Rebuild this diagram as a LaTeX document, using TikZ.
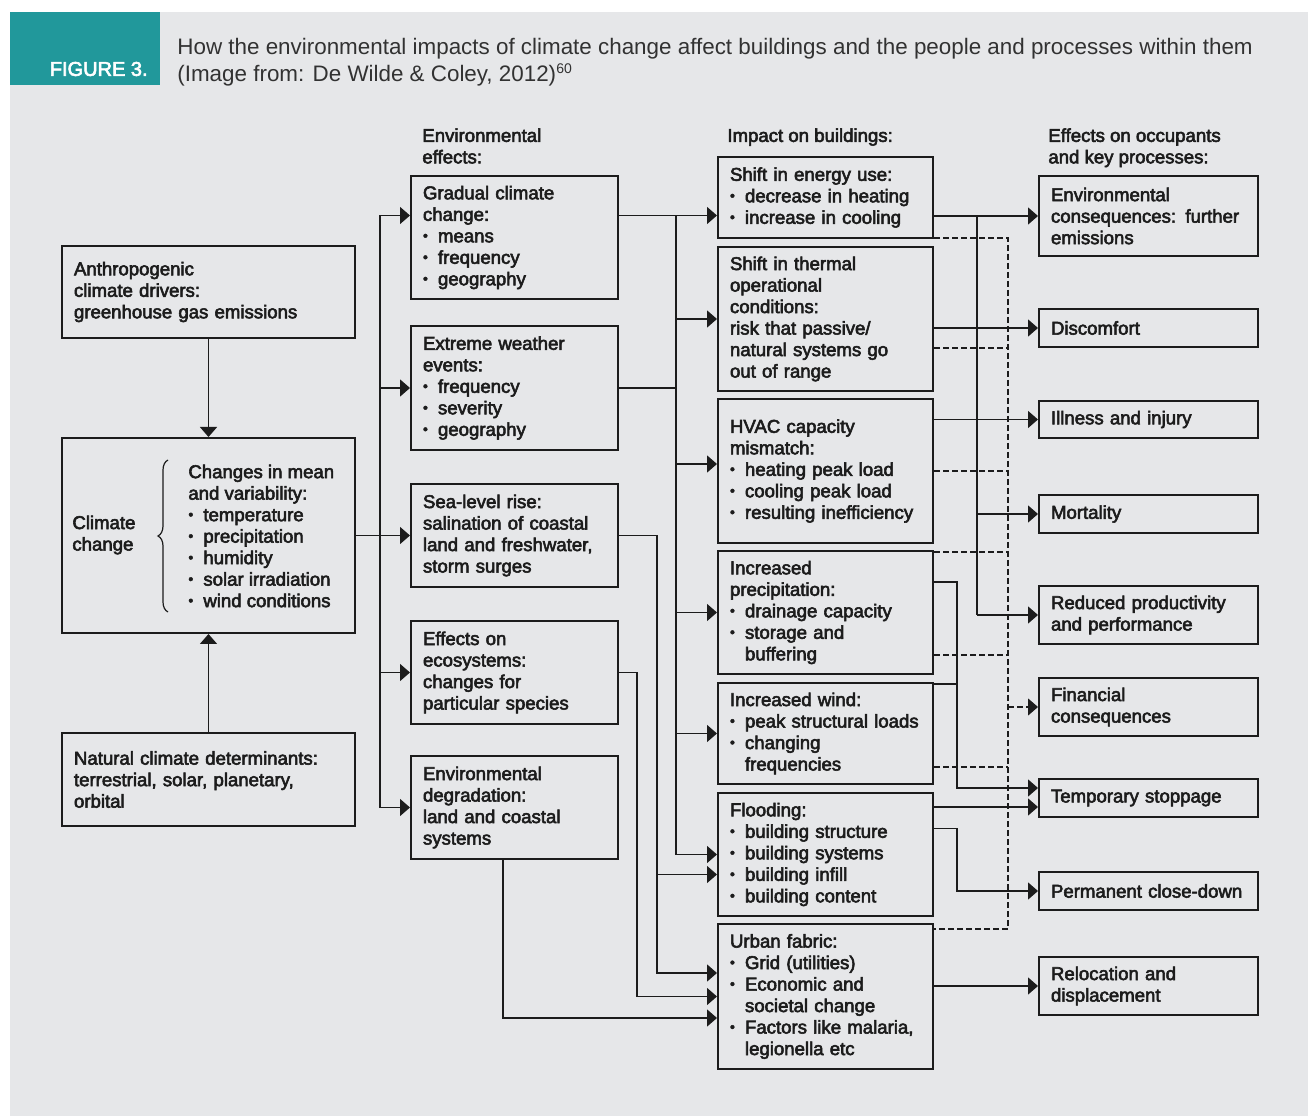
\documentclass[tikz,border=0pt]{standalone}
\usepackage{fontspec}
\setmainfont{Liberation Sans}
\newfontfamily\boxfont{Liberation Sans}[UprightFeatures={FakeBold=3}]
\usetikzlibrary{arrows.meta,calc,decorations.pathreplacing}
\definecolor{bggrey}{RGB}{230,231,233}
\definecolor{figteal}{RGB}{33,152,155}
\definecolor{inkgrey}{RGB}{28,28,28}
\definecolor{titlegrey}{RGB}{50,50,50}
\newcommand{\bul}{\makebox[7.5pt][l]{\raisebox{0.1em}{\scalebox{0.75}{\textbullet}}}}
\newcommand{\ind}{\hspace*{7.5pt}}
\newcommand{\boxsize}{\fontsize{9.3}{10.75}\selectfont}
\begin{document}
\begin{tikzpicture}[x=0.5pt,y=-0.5pt,
  box/.style={draw=inkgrey,line width=1pt,anchor=north west,align=left,inner xsep=6pt,inner ysep=2pt,font=\boxfont\boxsize,text=inkgrey},
  colA/.style={text width=134.5pt},
  colB/.style={text width=91.5pt},
  colC/.style={text width=95.5pt},
  colD/.style={text width=97.5pt},
  lbl/.style={inner sep=0,align=left,font=\boxfont\boxsize,text=inkgrey},
  arr/.style={draw=inkgrey,line width=0.75pt,-{Triangle[length=5pt,width=8.5pt]}},
  ln/.style={draw=inkgrey,line width=0.75pt},
  dsh/.style={draw=inkgrey,line width=0.6pt,dash pattern=on 3pt off 1.5pt}]
\useasboundingbox (0,0) rectangle (1308,1117);
\fill[bggrey] (10,12) rectangle (1308,1116);

% heading
\node[fill=figteal,anchor=north west,inner sep=0,minimum width=75pt,minimum height=36.5pt] (figbox) at (10,12) {};
\node[anchor=east,inner sep=0,text=white,font=\boxfont\fontsize{10}{12}\selectfont] (figlbl) at (148,69) {FIGURE 3.};
\node[anchor=north west,inner sep=0,align=left,text=titlegrey,font=\fontsize{11.2}{13.5}\selectfont] (title) at (177,38)
  {How the environmental impacts of climate change affect buildings and the people and processes within them\\(Image from: De Wilde \& Coley, 2012)\textsuperscript{\scriptsize 60}};

% column headers
\node[lbl,anchor=north west] (hdenv) at (422,128) {Environmental\\effects:};
\node[lbl,anchor=north west] (hdbld) at (727,128) {Impact on buildings:};
\node[lbl,anchor=north west] (hdocc) at (1048,128) {Effects on occupants\\and key processes:};

% drivers
\node[box,colA,minimum height=46pt] (anthro) at (61,245) {Anthropogenic\\climate drivers:\\greenhouse gas emissions};
\node[box,colA,minimum height=97.5pt] (cc) at (61,437) {};
\node[box,colA,minimum height=46.5pt] (natural) at (61,732) {Natural climate determinants:\\terrestrial, solar, planetary,\\orbital};
\node[lbl,anchor=west] (cclab) at (72,535) {Climate\\change};
\node[lbl,anchor=west] (cclist) at (188,536) {Changes in mean\\and variability:\\\bul temperature\\\bul precipitation\\\bul humidity\\\bul solar irradiation\\\bul wind conditions};
\draw[inkgrey,line width=0.6pt,decorate,decoration={brace,amplitude=5pt}] (168,612) -- (168,460);

% environmental effects
\node[box,colB,minimum height=61.5pt] (grad) at (410,175) {Gradual climate\\change:\\\bul means\\\bul frequency\\\bul geography};
\node[box,colB,minimum height=62pt] (extreme) at (410,325) {Extreme weather\\events:\\\bul frequency\\\bul severity\\\bul geography};
\node[box,colB,minimum height=51.5pt] (sea) at (410,483) {Sea-level rise:\\salination of coastal\\land and freshwater,\\storm surges};
\node[box,colB,minimum height=51.5pt] (eco) at (410,620) {Effects on\\ecosystems:\\changes for\\particular species};
\node[box,colB,minimum height=51.5pt] (degr) at (410,755) {Environmental\\degradation:\\land and coastal\\systems};

% impact on buildings
\node[box,colC,minimum height=40.5pt] (energy) at (717,156) {Shift in energy use:\\\bul decrease in heating\\\bul increase in cooling};
\node[box,colC,minimum height=72pt] (thermal) at (717,246) {Shift in thermal\\operational\\conditions:\\risk that passive/\\natural systems go\\out of range};
\node[box,colC,minimum height=72pt] (hvac) at (717,398) {HVAC capacity\\mismatch:\\\bul heating peak load\\\bul cooling peak load\\\bul resulting inefficiency};
\node[box,colC,minimum height=61.5pt] (precip) at (717,550) {Increased\\precipitation:\\\bul drainage capacity\\\bul storage and\\\ind buffering};
\node[box,colC,minimum height=50.5pt] (wind) at (717,682) {Increased wind:\\\bul peak structural loads\\\bul changing\\\ind frequencies};
\node[box,colC,minimum height=61.5pt] (flood) at (717,792) {Flooding:\\\bul building structure\\\bul building systems\\\bul building infill\\\bul building content};
\node[box,colC,minimum height=72.5pt] (urban) at (717,923) {Urban fabric:\\\bul Grid (utilities)\\\bul Economic and\\\ind societal change\\\bul Factors like malaria,\\\ind legionella etc};

% occupants and processes
\node[box,colD,minimum height=40pt] (envc) at (1038,175) {Environmental\\consequences: further\\emissions};
\node[box,colD,minimum height=19pt] (discomfort) at (1038,308) {Discomfort};
\node[box,colD,minimum height=18.5pt] (illness) at (1038,400) {Illness and injury};
\node[box,colD,minimum height=19pt] (mortality) at (1038,494) {Mortality};
\node[box,colD,minimum height=29pt] (reduced) at (1038,585) {Reduced productivity\\and performance};
\node[box,colD,minimum height=29pt] (financial) at (1038,677) {Financial\\consequences};
\node[box,colD,minimum height=19pt] (temp) at (1038,778) {Temporary stoppage};
\node[box,colD,minimum height=19pt] (perm) at (1038,871) {Permanent close-down};
\node[box,colD,minimum height=29pt] (reloc) at (1038,956) {Relocation and\\displacement};

% bus lines
\coordinate (busL) at (380,0);
\coordinate (busE) at (637,0);
\coordinate (busS) at (657,0);
\coordinate (busM) at (676,0);
\coordinate (busT) at (957,0);
\coordinate (busR) at (977,0);
\coordinate (busD) at (1008,0);

% drivers -> climate change -> effects
\draw[arr] (anthro) -- (cc);
\draw[arr] (natural) -- (cc);
\draw[arr] (cc.east) -- (sea.west);
\draw[arr] (busL |- cc.east) |- ([yshift=11pt]grad.west);
\draw[arr] (busL |- cc.east) |- (degr.west);
\draw[arr] (busL |- extreme.west) -- (extreme.west);
\draw[arr] (busL |- eco.west) -- (eco.west);

% effects -> buildings
\coordinate (gradout) at ([yshift=11pt]grad.east);
\draw[arr] (gradout) -- (energy.west |- gradout);
\draw[ln] (extreme.east) -- (busM |- extreme.east);
\draw[ln] (busM |- gradout) -- (busM |- flood.west);
\draw[arr] (busM |- thermal.west) -- (thermal.west);
\draw[arr] ([yshift=3.5pt]busM |- hvac.west) -- ([yshift=3.5pt]hvac.west);
\draw[arr] (busM |- precip.west) -- (precip.west);
\draw[arr] (busM |- wind.west) -- (wind.west);
\draw[arr] (busM |- flood.west) -- (flood.west);
\coordinate (urbA) at ([yshift=11.75pt]urban.west);
\coordinate (urbC) at ([yshift=-10.75pt]urban.west);
\coordinate (floodB) at ([yshift=-10pt]flood.west);
\draw[arr] (sea.east) -| (busS |- urbA) -- (urbA);
\draw[arr] (busS |- floodB) -- (floodB);
\draw[arr] (eco.east) -| (busE |- urban.west) -- (urban.west);
\draw[arr] ([xshift=-5.75pt]degr.south) |- (urbC);

% buildings -> occupants
\draw[arr] (energy.east |- envc.west) -- (envc.west);
\draw[arr] (thermal.east |- discomfort.west) -- (discomfort.west);
\draw[arr] (hvac.east |- illness.west) -- (illness.west);
\draw[ln] (busR |- envc.west) -- (busR |- reduced.west);
\draw[arr] (busR |- mortality.west) -- (mortality.west);
\draw[arr] (busR |- reduced.west) -- (reduced.west);
\coordinate (tempA) at ([yshift=5pt]temp.west);
\coordinate (tempB) at ([yshift=-4.5pt]temp.west);
\coordinate (precout) at ([yshift=15.25pt]precip.east);
\coordinate (windout) at ([yshift=-1pt]wind.north east);
\coordinate (floodout) at ([yshift=13pt]flood.east);
\draw[arr] (precout) -| (busT |- tempA) -- (tempA);
\draw[ln] (windout) -- (busT |- windout);
\draw[arr] (flood.east |- tempB) -- (tempB);
\draw[arr] (floodout) -| (busT |- perm.west) -- (perm.west);
\draw[arr] (urban.east |- reloc.west) -- (reloc.west);

% dashed links to financial consequences
\coordinate (dEnergy) at ([yshift=0.5pt]energy.south east);
\coordinate (dThermal) at ([yshift=-14.5pt]thermal.east);
\coordinate (dPrecA) at ([yshift=-1pt]precip.north east);
\coordinate (dPrecB) at ([yshift=-21.25pt]precip.east);
\coordinate (dWind) at ([yshift=-16.75pt]wind.east);
\coordinate (dUrban) at ([yshift=-3pt]urban.north east);
\draw[dsh] (dEnergy) -- (busD |- dEnergy) -- (busD |- dUrban) -- (dUrban);
\draw[dsh] (dThermal) -- (busD |- dThermal);
\draw[dsh] (hvac.east) -- (busD |- hvac.east);
\draw[dsh] (dPrecA) -- (busD |- dPrecA);
\draw[dsh] (dPrecB) -- (busD |- dPrecB);
\draw[dsh] (dWind) -- (busD |- dWind);
\draw[dsh,-{Triangle[length=5pt,width=8.5pt]}] (busD |- financial.west) -- (financial.west);
\end{tikzpicture}
\end{document}
